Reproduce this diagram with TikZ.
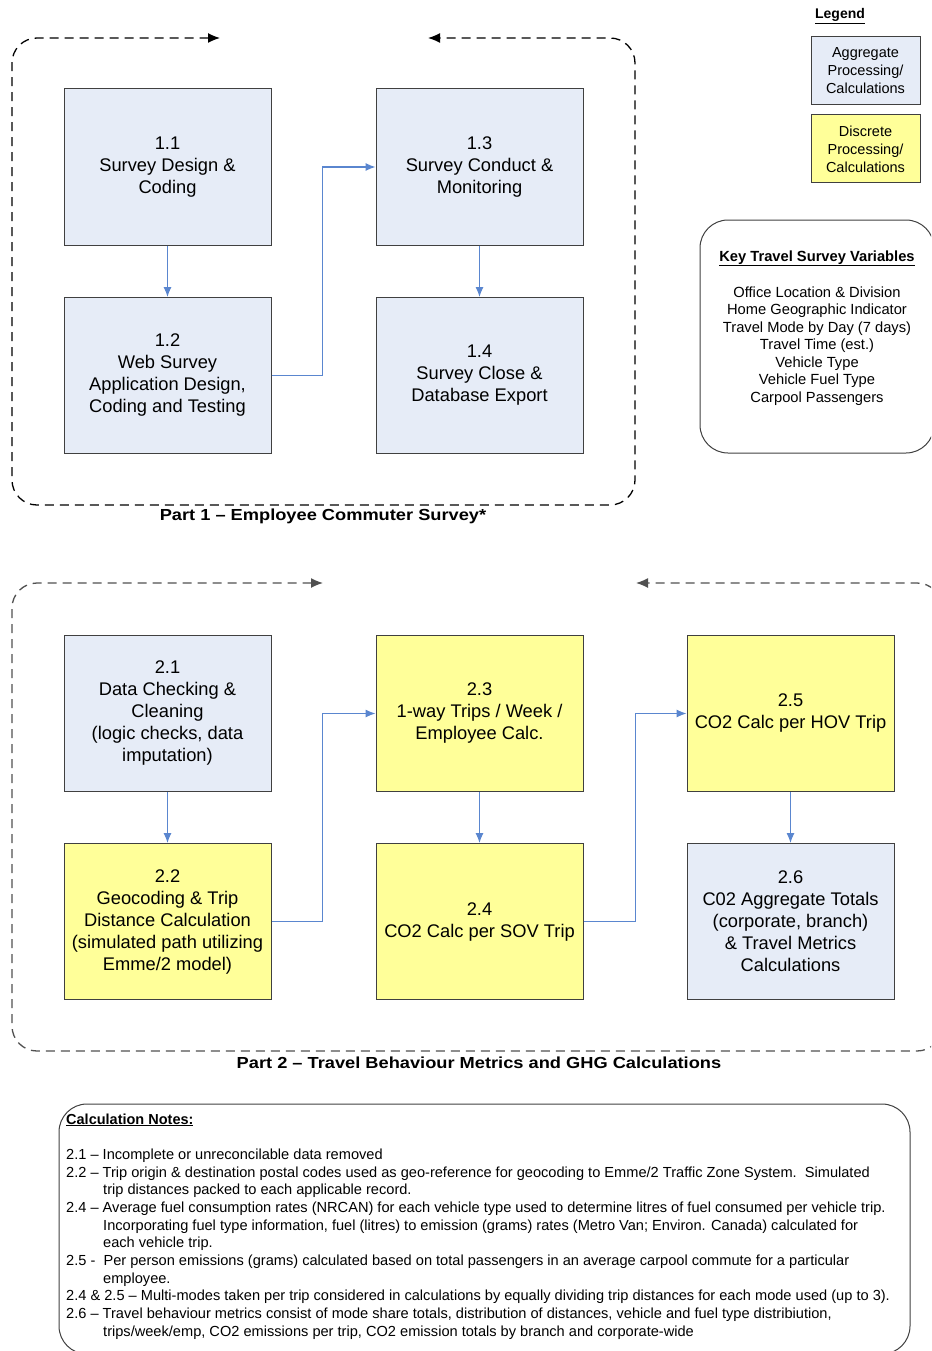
\documentclass[tikz,border=0pt]{standalone}
\usepackage{fontspec}
\setmainfont{Liberation Sans}
\usetikzlibrary{arrows.meta,calc}
\definecolor{aggfill}{HTML}{E6ECF7}
\definecolor{discfill}{HTML}{FFFF99}
\definecolor{boxline}{HTML}{404040}
\definecolor{conncol}{HTML}{5A86CF}
\definecolor{dash2col}{HTML}{505050}
\tikzset{
  procbox/.style={draw=boxline, line width=1pt, minimum width=207pt, minimum height=156pt, align=center, inner sep=0pt, font=\fontsize{18.3}{22}\selectfont},
  aggbox/.style={procbox, fill=aggfill},
  discbox/.style={procbox, fill=discfill},
  legbox/.style={draw=boxline, line width=1pt, minimum width=109pt, minimum height=68pt, align=center, inner sep=0pt, font=\fontsize{14.5}{18}\selectfont},
  conn/.style={draw=conncol, line width=1.1pt, -{Latex[length=10pt,width=8pt]}},
  dashA/.style={draw=black, line width=1.3pt, dash pattern=on 9pt off 6pt, rounded corners=25pt, {Latex[length=12pt,width=10pt]}-{Latex[length=12pt,width=10pt]}},
  dashB/.style={dashA, draw=dash2col},
  titletext/.style={font=\fontsize{16}{19}\selectfont\bfseries, inner sep=0pt},
  notetext/.style={anchor=base west, inner sep=0pt, font=\fontsize{14.6}{17}\selectfont},
  vartext/.style={anchor=base, inner sep=0pt, font=\fontsize{14.7}{17}\selectfont}
}
\begin{document}
\begin{tikzpicture}[x=1pt,y=-1pt]
\useasboundingbox (0,0) rectangle (931,1351);
\begin{scope}
\clip (0,0) rectangle (931,1351);
% Part 1 frame
\draw[dashA] (220,38) -- (12,38) -- (12,505) -- (635,505) -- (635,38) -- (428,38);
\node[titletext] (p1) at (323,516) {\scalebox{1.14}[1]{Part 1 – Employee Commuter Survey*}};
% Part 1 boxes
\node[aggbox] (n11) at (167.5,167) {1.1\\Survey Design \&\\Coding};
\node[aggbox] (n13) at (479.5,167) {1.3\\Survey Conduct \&\\Monitoring};
\node[aggbox] (n12) at (167.5,375.5) {1.2\\Web Survey\\Application Design,\\Coding and Testing};
\node[aggbox] (n14) at (479.5,375.5) {1.4\\Survey Close \&\\Database Export};
\draw[conn] (n11) -- (n12);
\draw[conn] (n12.east) -- ++(51,0) |- (n13.west);
\draw[conn] (n13) -- (n14);
% Part 2 frame
\draw[dashB] (323,583) -- (12,583) -- (12,1051) -- (942,1051) -- (942,583) -- (636,583);
\node[titletext] (p2) at (479,1062.5) {\scalebox{1.14}[1]{Part 2 – Travel Behaviour Metrics and GHG Calculations}};
% Part 2 boxes
\node[aggbox] (n21) at (167.5,713.5) {2.1\\Data Checking \&\\Cleaning\\(logic checks, data\\imputation)};
\node[discbox] (n23) at (479.5,713.5) {2.3\\1-way Trips / Week /\\Employee Calc.};
\node[discbox] (n25) at (790.5,713.5) {2.5\\CO2 Calc per HOV Trip};
\node[discbox] (n22) at (167.5,921.5) {2.2\\Geocoding \& Trip\\Distance Calculation\\(simulated path utilizing\\Emme/2 model)};
\node[discbox] (n24) at (479.5,921.5) {2.4\\CO2 Calc per SOV Trip};
\node[aggbox] (n26) at (790.5,921.5) {2.6\\C02 Aggregate Totals\\(corporate, branch)\\\& Travel Metrics\\Calculations};
\draw[conn] (n21) -- (n22);
\draw[conn] (n22.east) -- ++(51,0) |- (n23.west);
\draw[conn] (n23) -- (n24);
\draw[conn] (n24.east) -- ++(52,0) |- (n25.west);
\draw[conn] (n25) -- (n26);
% Legend
\node[inner sep=0pt, font=\fontsize{14}{17}\selectfont\bfseries] (legt) at (840,16) {\underline{Legend}};
\node[legbox, fill=aggfill] (lega) at (865.5,71) {Aggregate\\Processing/\\Calculations};
\node[legbox, fill=discfill] (legd) at (865.5,149) {Discrete\\Processing/\\Calculations};
% Key variables
\node[draw=boxline, line width=1pt, rounded corners=28pt, minimum width=234pt, minimum height=233pt, inner sep=0pt] (kv) at (817,336.5) {};
\node[vartext, font=\fontsize{14.7}{17}\selectfont\bfseries] (kvt) at (817,261) {\underline{Key Travel Survey Variables}};
\node[vartext] (kv1) at (817,297) {Office Location \& Division};
\node[vartext] (kv2) at (817,314.5) {Home Geographic Indicator};
\node[vartext] (kv3) at (817,332) {Travel Mode by Day (7 days)};
\node[vartext] (kv4) at (817,349.5) {Travel Time (est.)};
\node[vartext] (kv5) at (817,367) {Vehicle Type};
\node[vartext] (kv6) at (817,384.5) {Vehicle Fuel Type};
\node[vartext] (kv7) at (817,402) {Carpool Passengers};
% Notes
\node[draw=boxline, line width=1pt, rounded corners=28pt, minimum width=851pt, minimum height=250pt, inner sep=0pt] (notes) at (484.5,1229) {};
\node[notetext, font=\fontsize{14.5}{17}\selectfont\bfseries] (nt) at (66,1124) {\underline{Calculation Notes:}};
\node[notetext] (l1) at (66,1159) {2.1 – Incomplete or unreconcilable data removed};
\node[notetext] (l2) at (66,1177) {2.2 – Trip origin \& destination postal codes used as geo-reference for geocoding to Emme/2 Traffic Zone System.\ \ Simulated};
\node[notetext] (l3) at (103,1194) {trip distances packed to each applicable record.};
\node[notetext] (l4) at (66,1212) {2.4 – Average fuel consumption rates (NRCAN) for each vehicle type used to determine litres of fuel consumed per vehicle trip.};
\node[notetext] (l5) at (103,1230) {Incorporating fuel type information, fuel (litres) to emission (grams) rates (Metro Van; Environ. Canada) calculated for};
\node[notetext] (l6) at (103,1247) {each vehicle trip.};
\node[notetext] (l7) at (66,1265) {2.5 -\ \ Per person emissions (grams) calculated based on total passengers in an average carpool commute for a particular};
\node[notetext] (l8) at (103,1283) {employee.};
\node[notetext] (l9) at (66,1300) {2.4 \& 2.5 – Multi-modes taken per trip considered in calculations by equally dividing trip distances for each mode used (up to 3).};
\node[notetext] (l10) at (66,1318) {2.6 – Travel behaviour metrics consist of mode share totals, distribution of distances, vehicle and fuel type distribiution,};
\node[notetext] (l11) at (103,1336) {trips/week/emp, CO2 emissions per trip, CO2 emission totals by branch and corporate-wide};
\end{scope}
\end{tikzpicture}
\end{document}
